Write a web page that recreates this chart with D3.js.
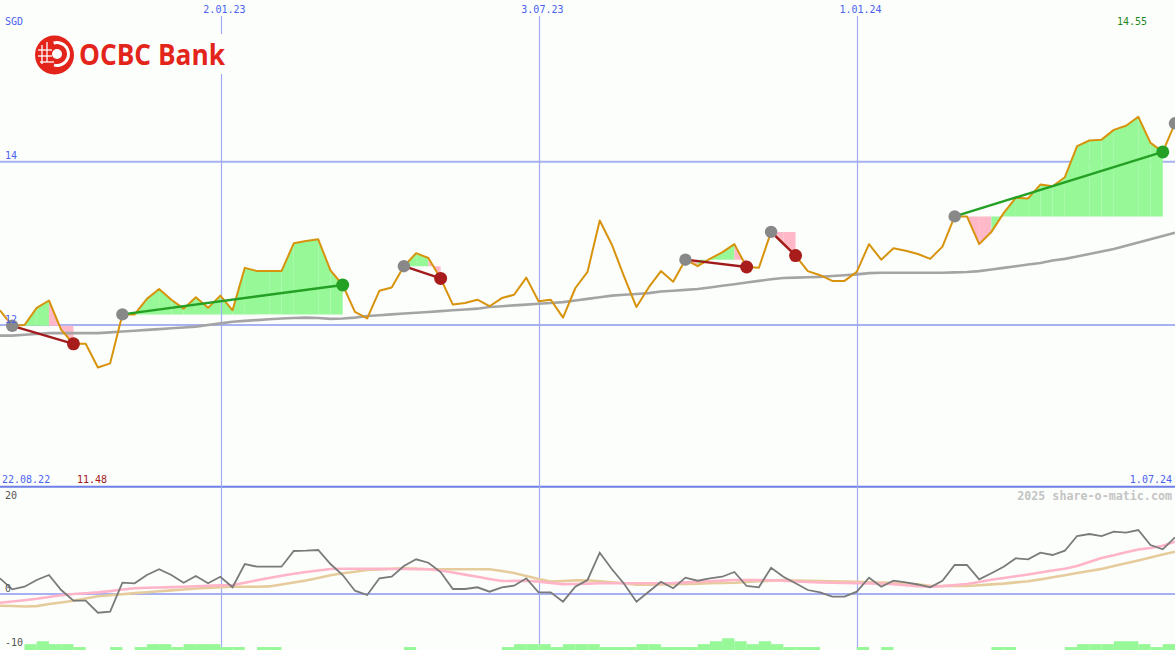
<!DOCTYPE html>
<html>
<head>
<meta charset="utf-8">
<script src="https://cdn.jsdelivr.net/npm/d3@7"></script>
<style>
  html, body { margin: 0; padding: 0; background: #fcfefc; }
  svg { display: block; }
  text.mono { font-family: "DejaVu Sans Mono", monospace; }
</style>
</head>
<body>
<svg id="chart" width="1175" height="650"></svg>
<script>
// ---------------- data ----------------
const priceValues = [
  12.18, 11.99, 12.00, 12.21, 12.30, 11.94, 11.77, 11.77, 11.48, 11.53,
  12.13, 12.13, 12.32, 12.44, 12.31, 12.20, 12.34, 12.21, 12.36, 12.18,
  12.70, 12.66, 12.66, 12.66, 13.00, 13.03, 13.05, 12.67, 12.49, 12.16,
  12.08, 12.42, 12.46, 12.72, 12.88, 12.82, 12.57, 12.25, 12.27, 12.31,
  12.23, 12.33, 12.37, 12.58, 12.29, 12.31, 12.09, 12.45, 12.65, 13.28,
  12.98, 12.59, 12.22, 12.46, 12.66, 12.53, 12.80, 12.72, 12.81, 12.89,
  12.99, 12.71, 12.70, 13.14, 13.00, 12.85, 12.66, 12.61, 12.54, 12.54,
  12.65, 12.99, 12.80, 12.94, 12.91, 12.87, 12.81, 12.96, 13.33, 13.33,
  12.99, 13.14, 13.37, 13.56, 13.55, 13.72, 13.70, 13.81, 14.19, 14.26,
  14.27, 14.39, 14.44, 14.55, 14.23, 14.12, 14.47
];
const movingAverage = [
  11.87, 11.87, 11.88, 11.89, 11.90, 11.90, 11.90, 11.90, 11.90, 11.91,
  11.92, 11.93, 11.94, 11.95, 11.96, 11.97, 11.98, 12.00, 12.02, 12.04,
  12.05, 12.06, 12.07, 12.08, 12.085, 12.09, 12.085, 12.075, 12.08, 12.09,
  12.11, 12.12, 12.13, 12.14, 12.15, 12.16, 12.17, 12.18, 12.19, 12.20,
  12.22, 12.23, 12.24, 12.25, 12.26, 12.27, 12.28, 12.30, 12.32, 12.34,
  12.36, 12.37, 12.38, 12.39, 12.41, 12.42, 12.43, 12.44, 12.46, 12.48,
  12.50, 12.52, 12.54, 12.56, 12.575, 12.58, 12.585, 12.59, 12.60, 12.61,
  12.62, 12.635, 12.64, 12.64, 12.64, 12.64, 12.64, 12.64, 12.645, 12.65,
  12.66, 12.68, 12.70, 12.72, 12.74, 12.76, 12.79, 12.81, 12.84, 12.87,
  12.90, 12.93, 12.97, 13.01, 13.05, 13.09, 13.13
];
const oscMomentum = [
  3.27, 0.98, 1.52, 2.92, 3.96, 0.83, -1.40, -1.40, -3.90, -3.69,
  2.35, 2.23, 3.96, 5.15, 3.96, 2.35, 3.75, 2.23, 3.60, 1.40,
  6.25, 5.69, 5.69, 5.69, 8.96, 9.02, 9.17, 6.25, 3.96, 0.69,
  -0.21, 3.27, 3.60, 5.83, 7.23, 6.52, 4.58, 1.04, 1.04, 1.40,
  0.48, 1.40, 1.73, 3.27, 0.35, 0.35, -1.60, 1.52, 2.92, 8.60,
  5.15, 2.08, -1.60, 0.48, 2.56, 1.19, 3.40, 2.77, 3.27, 3.60,
  4.58, 1.67, 1.40, 5.48, 3.60, 2.23, 0.83, 0.35, -0.56, -0.56,
  0.48, 3.40, 1.52, 2.77, 2.40, 1.98, 1.40, 2.77, 6.04, 6.04,
  3.06, 4.31, 5.69, 7.44, 7.23, 8.60, 8.13, 9.02, 12.08, 12.50,
  12.08, 12.98, 12.77, 13.33, 10.21, 9.31, 11.81
];
const oscPink = [
  -1.81, -1.56, -1.29, -1.00, -0.63, -0.25, 0.00, 0.17, 0.33, 0.60,
  0.92, 1.21, 1.29, 1.35, 1.44, 1.52, 1.60, 1.71, 1.79, 1.88,
  2.35, 2.85, 3.33, 3.79, 4.23, 4.58, 4.88, 5.21, 5.27, 5.25,
  5.25, 5.23, 5.21, 5.21, 5.19, 5.17, 4.88, 4.46, 4.04, 3.58,
  3.13, 2.71, 2.73, 2.75, 2.58, 2.31, 2.06, 2.08, 2.17, 2.23,
  2.23, 2.23, 2.23, 2.23, 2.23, 2.29, 2.42, 2.54, 2.67, 2.79,
  2.92, 2.92, 2.92, 2.88, 2.75, 2.60, 2.50, 2.42, 2.35, 2.31,
  2.27, 2.21, 2.15, 2.06, 1.81, 1.63, 1.54, 1.65, 1.88, 2.08,
  2.50, 2.96, 3.33, 3.69, 4.06, 4.48, 4.90, 5.27, 5.83, 6.67,
  7.50, 8.06, 8.69, 9.27, 9.60, 10.06, 10.90
];
const oscTan = [
  -2.44, -2.50, -2.60, -2.52, -2.10, -1.77, -1.40, -0.94, -0.48, -0.25,
  -0.04, 0.19, 0.38, 0.56, 0.75, 0.94, 1.13, 1.27, 1.40, 1.52,
  1.52, 1.52, 1.58, 1.98, 2.38, 2.81, 3.33, 3.90, 4.33, 4.65,
  5.00, 5.13, 5.25, 5.33, 5.25, 5.17, 5.15, 5.15, 5.15, 5.15,
  5.15, 4.79, 4.38, 3.77, 3.13, 2.58, 2.71, 2.83, 2.85, 2.65,
  2.44, 2.25, 1.92, 1.92, 1.98, 2.04, 2.08, 2.17, 2.23, 2.29,
  2.35, 2.50, 2.65, 2.79, 2.92, 2.81, 2.75, 2.71, 2.65, 2.58,
  2.52, 2.46, 2.40, 2.33, 2.19, 1.96, 1.73, 1.67, 1.67, 1.67,
  1.81, 2.00, 2.17, 2.42, 2.67, 3.04, 3.48, 3.90, 4.38, 4.79,
  5.23, 5.83, 6.40, 7.00, 7.60, 8.21, 8.81
];
const volumeLevels = [
  0, 0, 2, 3, 2, 2, 1, 0, 0, 1,
  0, 1, 2, 2, 1, 2, 2, 2, 1, 1,
  0, 1, 1, 0, 0, 0, 0, 0, 0, 0,
  0, 0, 0, 1, 0, 0, 0, 0, 0, 0,
  0, 1, 2, 2, 2, 1, 2, 2, 2, 1,
  1, 1, 2, 2, 1, 1, 1, 2, 3, 4,
  3, 2, 3, 2, 1, 1, 1, 0, 0, 0,
  1, 0, 1, 0, 0, 0, 0, 0, 0, 0,
  0, 1, 1, 0, 0, 0, 0, 1, 2, 2,
  2, 3, 3, 2, 1, 2, 0
];
const tradeEntries = [1, 10, 33, 56, 63, 78];
const tradeExits   = [6, 28, 36, 61, 65, 95];
const openEntries  = [96];

const dateTickPos    = [18.05, 44.03, 70.02];
const dateTickLabels = ["2.01.23", "3.07.23", "1.01.24"];
const priceTicks     = [14, 12];
const oscTicks       = [20, 0, -10];

// ---------------- chart ----------------
const W = 1175, H = 650;
const svg = d3.select("#chart");
const BG = "#fcfefc";
svg.append("rect").attr("width", W).attr("height", H).attr("fill", BG);

const x = d3.scaleLinear().domain([0, priceValues.length - 1]).range([0, W]);
const y = d3.scaleLinear().domain([12, 14]).range([325, 161.7]);
const yLow = d3.scaleLinear().domain([0, 20]).range([594, 498]);
const yVol = d3.scaleLinear().domain([0, 4]).range([650, 638.3]);

// horizontal price gridlines
svg.append("g").selectAll("line").data(priceTicks).join("line")
  .attr("x1", 0).attr("x2", W)
  .attr("y1", d => y(d)).attr("y2", d => y(d))
  .attr("stroke", "#a6b2f2").attr("stroke-width", 2);

// divider and oscillator zero line
svg.append("line").attr("x1", 0).attr("x2", W).attr("y1", 486.8).attr("y2", 486.8)
  .attr("stroke", "#6e7fe8").attr("stroke-width", 2);
svg.append("line").attr("x1", 0).attr("x2", W).attr("y1", yLow(0)).attr("y2", yLow(0))
  .attr("stroke", "#a6b0f2").attr("stroke-width", 2);

// trade fills
const fills = svg.append("g");
tradeEntries.forEach((s, t) => {
  const e = tradeExits[t];
  const entry = priceValues[s];
  for (let k = s; k < e; k++) {
    const p0 = priceValues[k], p1 = priceValues[k + 1];
    const pts = [[x(k), y(entry)], [x(k), y(p0)], [x(k + 1), y(p1)], [x(k + 1), y(entry)]];
    fills.append("path")
      .attr("d", "M" + pts.map(p => p.join(",")).join("L") + "Z")
      .attr("fill", p1 >= entry ? "#96f896" : "#ffb8c8")
      .attr("fill-rule", "nonzero");
  }
});

// vertical date lines
svg.append("g").selectAll("line").data(dateTickPos).join("line")
  .attr("x1", d => Math.round(x(d)) + 0.5).attr("x2", d => Math.round(x(d)) + 0.5)
  .attr("y1", 16).attr("y2", H)
  .attr("stroke", "#a2aaf2").attr("stroke-width", 1.2);

// moving average
svg.append("path").datum(movingAverage)
  .attr("d", d3.line().x((d, i) => x(i)).y(d => y(d)))
  .attr("fill", "none").attr("stroke", "#a4a4a4").attr("stroke-width", 2.6);

// price line
svg.append("path").datum(priceValues)
  .attr("d", d3.line().x((d, i) => x(i)).y(d => y(d)))
  .attr("fill", "none").attr("stroke", "#d8930c").attr("stroke-width", 2)
  .attr("stroke-linejoin", "round");

// trade lines
tradeEntries.forEach((s, t) => {
  const e = tradeExits[t];
  const win = priceValues[e] >= priceValues[s];
  svg.append("line")
    .attr("x1", x(s)).attr("y1", y(priceValues[s]))
    .attr("x2", x(e)).attr("y2", y(priceValues[e]))
    .attr("stroke", win ? "#24a024" : "#a01c1c").attr("stroke-width", 2.4);
});
// markers
tradeEntries.concat(openEntries).forEach(s => {
  svg.append("circle").attr("cx", x(s)).attr("cy", y(priceValues[s])).attr("r", 6.2)
    .attr("fill", "#888888");
});
tradeEntries.forEach((s, t) => {
  const e = tradeExits[t];
  const win = priceValues[e] >= priceValues[s];
  svg.append("circle").attr("cx", x(e)).attr("cy", y(priceValues[e])).attr("r", 6.5)
    .attr("fill", win ? "#24a024" : "#a81c1c");
});

// oscillator panel
const lowLine = d3.line().x((d, i) => x(i)).y(d => yLow(d));
svg.append("path").datum(oscTan).attr("d", lowLine)
  .attr("fill", "none").attr("stroke", "#e6cc9c").attr("stroke-width", 2.6);
svg.append("path").datum(oscPink).attr("d", lowLine)
  .attr("fill", "none").attr("stroke", "#ffb4c8").attr("stroke-width", 2.6);
svg.append("path").datum(oscMomentum).attr("d", lowLine)
  .attr("fill", "none").attr("stroke", "#7a7a7a").attr("stroke-width", 1.8);

// volume-like bars
svg.append("g").selectAll("rect").data(volumeLevels.map((v, i) => ({v, i})).filter(d => d.v > 0))
  .join("rect")
  .attr("x", d => x(d.i)).attr("width", d => x(d.i + 1) - x(d.i))
  .attr("y", d => yVol(d.v)).attr("height", d => H - yVol(d.v) + 2)
  .attr("fill", "#96f896");

// ---------------- texts ----------------
const blue = "#4a62f0";
const mono = sel => sel.attr("class", "mono");
svg.append("text").call(mono).attr("x", 5).attr("y", 25).attr("font-size", 10).attr("fill", blue).text("SGD");
svg.append("g").selectAll("text").data(dateTickPos).join("text").call(mono)
  .attr("x", d => x(d) + 3.5).attr("y", 13).attr("text-anchor", "middle")
  .attr("font-size", 10).attr("fill", blue).text((d, i) => dateTickLabels[i]);
svg.append("g").selectAll("text").data(priceTicks).join("text").call(mono)
  .attr("x", 5).attr("y", d => y(d) - 2.5).attr("font-size", 10).attr("fill", blue)
  .text(d => d);
svg.append("text").call(mono).attr("x", 1117).attr("y", 25).attr("font-size", 10).attr("fill", "#1e8a1e")
  .text(d3.max(priceValues).toFixed(2));
svg.append("text").call(mono).attr("x", 2).attr("y", 482.5).attr("font-size", 10).attr("fill", blue).text("22.08.22");
svg.append("text").call(mono).attr("x", 77).attr("y", 482.5).attr("font-size", 10).attr("fill", "#a01818")
  .text(d3.min(priceValues).toFixed(2));
svg.append("text").call(mono).attr("x", 1172).attr("y", 482.5).attr("text-anchor", "end")
  .attr("font-size", 10).attr("fill", blue).text("1.07.24");
svg.append("text").call(mono).attr("x", 1172).attr("y", 500).attr("text-anchor", "end")
  .attr("font-size", 11.7).attr("font-weight", "bold").attr("fill", "#c4c4c4")
  .text("2025 share-o-matic.com");
const oscLabelY = {"20": 499, "0": 592, "-10": 646};
svg.append("g").selectAll("text").data(oscTicks).join("text").call(mono)
  .attr("x", 5).attr("y", d => oscLabelY[String(d)]).attr("font-size", 10).attr("fill", "#555")
  .text(d => d);

// ---------------- logo ----------------
const logo = svg.append("g");
logo.append("rect").attr("x", 30).attr("y", 34).attr("width", 200).attr("height", 40).attr("fill", BG);
const red = "#e3241b";
logo.append("circle").attr("cx", 54.5).attr("cy", 55).attr("r", 19.5).attr("fill", red);
logo.append("path")
  .attr("d", d3.arc().innerRadius(10).outerRadius(13).startAngle(-0.3).endAngle(3.4)())
  .attr("transform", "translate(57,54)").attr("fill", "#ffffff");
logo.append("circle").attr("cx", 57).attr("cy", 54).attr("r", 5).attr("fill", "#ffffff");
[[47, 42, 47, 62], [42, 45, 42, 64], [38, 50, 52, 50], [38, 56, 52, 56], [40, 62, 54, 62]].forEach(l => {
  logo.append("line").attr("x1", l[0]).attr("y1", l[1]).attr("x2", l[2]).attr("y2", l[3])
    .attr("stroke", "#ffffff").attr("stroke-width", 1.3);
});
logo.append("text").attr("x", 79).attr("y", 65)
  .style("font-family", "'Open Sans', 'Liberation Sans', sans-serif")
  .style("font-weight", "bold").style("font-size", "29px").attr("fill", red)
  .attr("textLength", 146).attr("lengthAdjust", "spacingAndGlyphs")
  .text("OCBC Bank");
</script>
</body>
</html>
